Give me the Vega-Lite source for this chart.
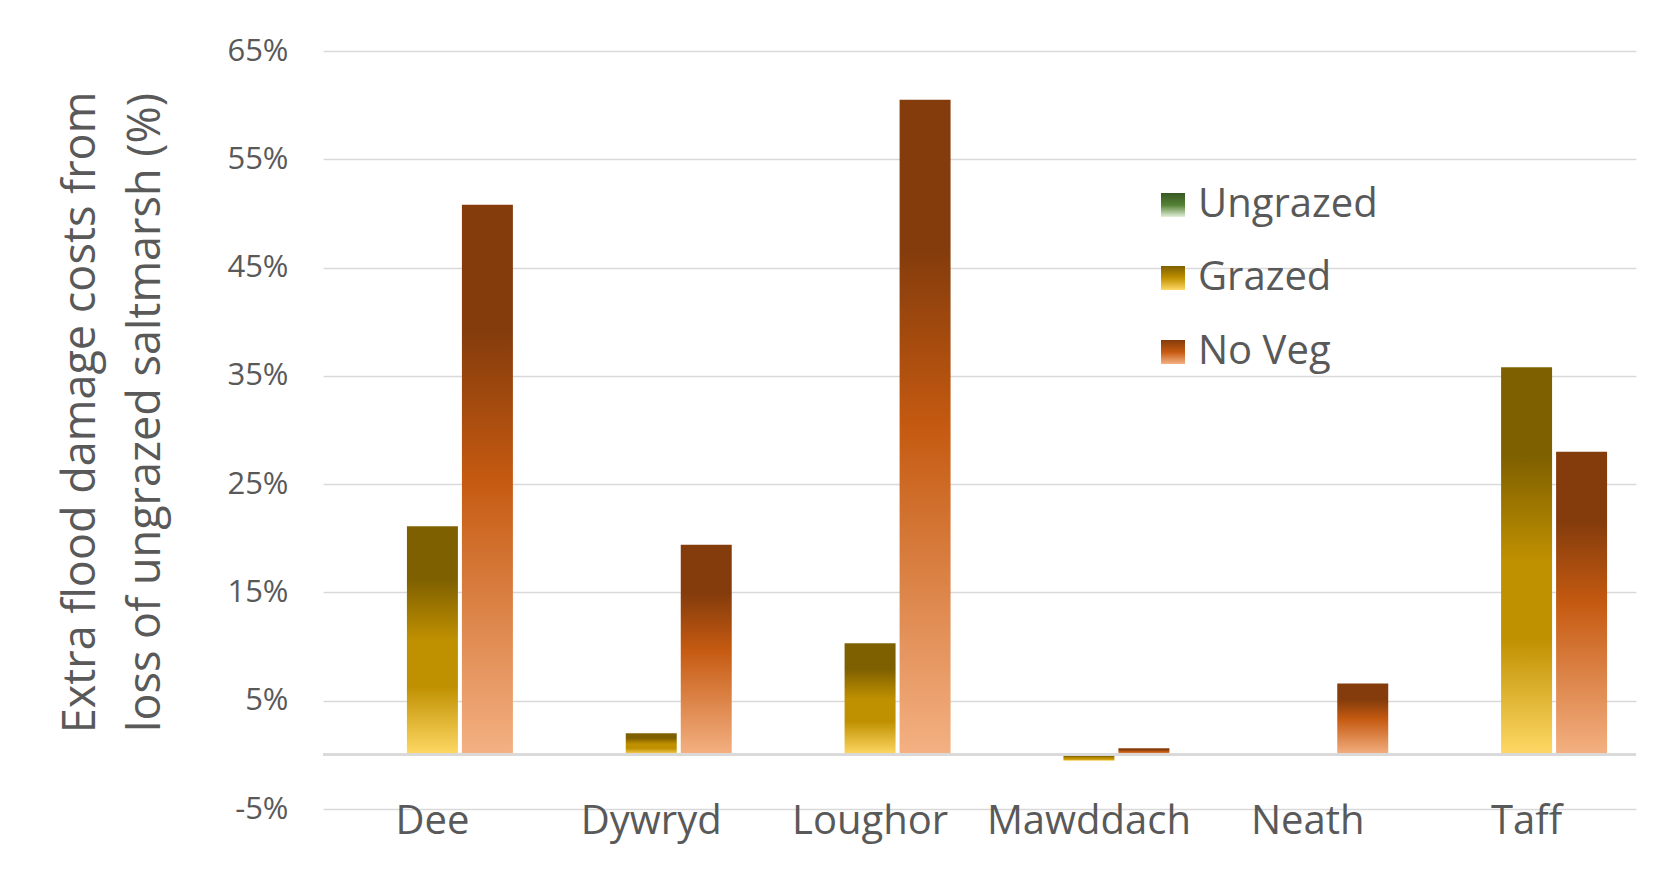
{
  "$schema": "https://vega.github.io/schema/vega-lite/v6.json",
  "autosize": "none",
  "width": 1313,
  "height": 758,
  "padding": {"left": 323, "top": 51, "right": 24, "bottom": 70},
  "background": "white",
  "config": {
    "font": "Open Sans",
    "view": {"stroke": null},
    "axis": {"labelColor": "#595959", "titleColor": "#595959", "labelFont": "Open Sans", "titleFont": "Open Sans"},
    "legend": {"title": null, "orient": "none", "symbolSize": 576, "symbolOpacity": 1, "symbolStrokeWidth": 0, "labelFontSize": 40, "labelLimit": 0, "labelColor": "#595959", "labelFont": "Open Sans", "labelOffset": 5}
  },
  "data": {
    "values": [
      {"site": "Dee", "series": "Grazed", "pct": 21.1},
      {"site": "Dee", "series": "No Veg", "pct": 50.8},
      {"site": "Dywryd", "series": "Grazed", "pct": 2.0},
      {"site": "Dywryd", "series": "No Veg", "pct": 19.4},
      {"site": "Loughor", "series": "Grazed", "pct": 10.3},
      {"site": "Loughor", "series": "No Veg", "pct": 60.5},
      {"site": "Mawddach", "series": "Grazed", "pct": -0.55},
      {"site": "Mawddach", "series": "No Veg", "pct": 0.6},
      {"site": "Neath", "series": "No Veg", "pct": 6.6},
      {"site": "Taff", "series": "Grazed", "pct": 35.8},
      {"site": "Taff", "series": "No Veg", "pct": 28.0}
    ]
  },
  "encoding": {
    "x": {
      "field": "site", "type": "nominal", "sort": null,
      "scale": {"domain": ["Dee", "Dywryd", "Loughor", "Mawddach", "Neath", "Taff"], "paddingInner": 0, "paddingOuter": 0},
      "axis": {"title": null, "labelAngle": 0, "labelFontSize": 40, "labelLimit": 0, "labelBaseline": "alphabetic", "labelPadding": 24, "ticks": false, "domain": false, "grid": false}
    },
    "xOffset": {
      "field": "series", "type": "nominal",
      "scale": {"domain": ["Ungrazed", "Grazed", "No Veg"], "paddingInner": 0.073, "paddingOuter": 0.526}
    },
    "y": {
      "field": "pct", "type": "quantitative",
      "scale": {"domain": [-5, 65], "nice": false, "zero": false},
      "axis": {
        "values": [-5, 5, 15, 25, 35, 45, 55, 65],
        "labelExpr": "datum.value + '%'",
        "labelFontSize": 31,
        "labelPadding": 35,
        "ticks": false,
        "domain": false,
        "gridColor": "#D9D9D9",
        "gridWidth": 1.5,
        "title": ["Extra flood damage costs from", "loss of ungrazed saltmarsh (%)"],
        "titleFontSize": 45,
        "titleFontWeight": "normal",
        "titleLineHeight": 65,
        "titlePadding": 58,
        "titleY": 361
      }
    }
  },
  "resolve": {"scale": {"shape": "independent"}, "legend": {"shape": "independent"}},
  "layer": [
    {
      "transform": [{"filter": "datum.series === 'Grazed'"}],
      "mark": {"type": "bar", "color": {"gradient": "linear", "x1": 0, "y1": 0, "x2": 0, "y2": 1, "stops": [{"offset": 0, "color": "#7F6000"}, {"offset": 0.23, "color": "#7F6000"}, {"offset": 0.5, "color": "#BF9000"}, {"offset": 0.7, "color": "#BF9000"}, {"offset": 1, "color": "#FFD966"}]}}
    },
    {
      "transform": [{"filter": "datum.series === 'No Veg'"}],
      "mark": {"type": "bar", "color": {"gradient": "linear", "x1": 0, "y1": 0, "x2": 0, "y2": 1, "stops": [{"offset": 0, "color": "#843C0C"}, {"offset": 0.23, "color": "#843C0C"}, {"offset": 0.5, "color": "#C55A11"}, {"offset": 1, "color": "#F4B183"}]}}
    },
    {
      "mark": {"type": "point", "filled": true, "opacity": 0, "color": {"gradient": "linear", "x1": 0, "y1": 0, "x2": 0, "y2": 1, "stops": [{"offset": 0, "color": "#385723"}, {"offset": 0.5, "color": "#548235"}, {"offset": 1, "color": "#E2F0D9"}]}},
      "encoding": {
        "shape": {"datum": "Ungrazed", "type": "nominal", "scale": {"range": ["square"]}, "legend": {"legendX": 830, "legendY": 134}}
      }
    },
    {
      "mark": {"type": "point", "filled": true, "opacity": 0, "color": {"gradient": "linear", "x1": 0, "y1": 0, "x2": 0, "y2": 1, "stops": [{"offset": 0, "color": "#7F6000"}, {"offset": 0.5, "color": "#BF9000"}, {"offset": 1, "color": "#FFD966"}]}},
      "encoding": {
        "shape": {"datum": "Grazed", "type": "nominal", "scale": {"range": ["square"]}, "legend": {"legendX": 830, "legendY": 207}}
      }
    },
    {
      "mark": {"type": "point", "filled": true, "opacity": 0, "color": {"gradient": "linear", "x1": 0, "y1": 0, "x2": 0, "y2": 1, "stops": [{"offset": 0, "color": "#843C0C"}, {"offset": 0.5, "color": "#C55A11"}, {"offset": 1, "color": "#F4B183"}]}},
      "encoding": {
        "shape": {"datum": "No Veg", "type": "nominal", "scale": {"range": ["square"]}, "legend": {"legendX": 830, "legendY": 281}}
      }
    },
    {
      "mark": {"type": "rule", "color": "#D9D9D9", "strokeWidth": 2},
      "encoding": {"y": {"datum": 0, "type": "quantitative"}, "x": null, "xOffset": null}
    }
  ]
}
